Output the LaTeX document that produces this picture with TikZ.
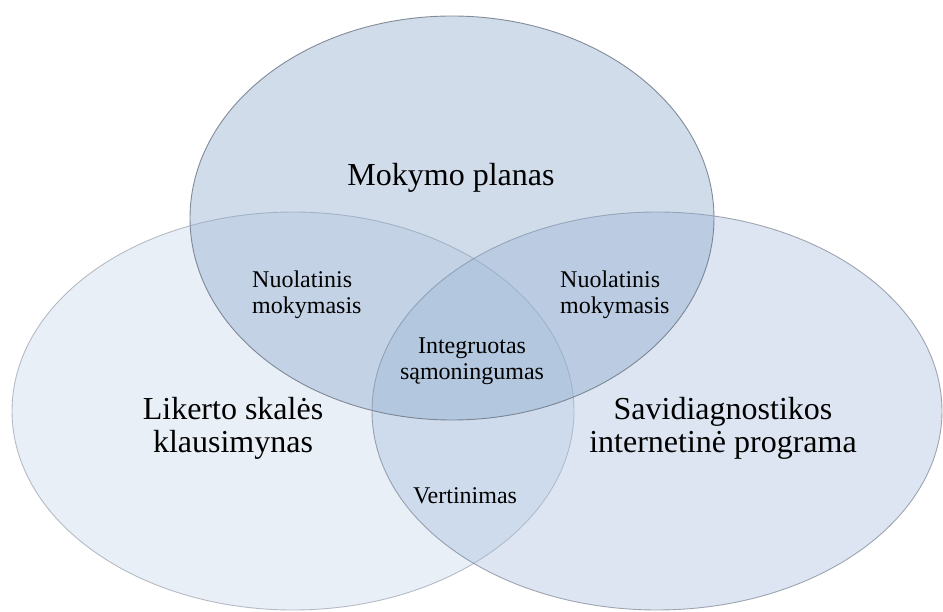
\documentclass[tikz,border=0pt]{standalone}
\usepackage{fontspec}
\setmainfont{Liberation Serif}
\definecolor{topfill}{RGB}{138,168,203}
\definecolor{leftfill}{RGB}{200,215,235}
\definecolor{rightfill}{RGB}{167,190,220}
\definecolor{rim}{RGB}{105,115,130}
\begin{document}
\begin{tikzpicture}[x=1pt,y=-1pt,
  setblob/.style={fill opacity=0.4, draw=rim, line width=0.9pt},
  biglabel/.style={font=\fontsize{32}{33}\selectfont, align=center, inner sep=0pt, anchor=base},
  smalllabel/.style={font=\fontsize{24}{26.5}\selectfont, inner sep=0pt, anchor=base}]
\useasboundingbox (0,0) rectangle (943,612);

% the three sets
\path[setblob, fill=leftfill, draw opacity=0.45] (293,411) ellipse [x radius=281, y radius=199];
\path[setblob, fill=rightfill, draw opacity=0.6] (657,411) ellipse [x radius=285, y radius=199];
\path[setblob, fill=topfill, draw opacity=0.8] (452,218) ellipse [x radius=262, y radius=202];

% set names (multi-line nodes are placed by the baseline of their last line)
\node[biglabel] (plan) at (451,186) {Mokymo planas};
\node[biglabel] (likert) at (233,453) {Likerto skalės\\klausimynas};
\node[biglabel] (selfdiag) at (723,453) {Savidiagnostikos\\internetinė programa};

% overlaps
\node[smalllabel, align=left, anchor=base west] (learnL) at (252,314) {Nuolatinis\\mokymasis};
\node[smalllabel, align=left, anchor=base west] (learnR) at (560,314) {Nuolatinis\\mokymasis};
\node[smalllabel, align=center] (aware) at (472,380) {Integruotas\\sąmoningumas};
\node[smalllabel] (eval) at (465,503) {Vertinimas};
\end{tikzpicture}
\end{document}
